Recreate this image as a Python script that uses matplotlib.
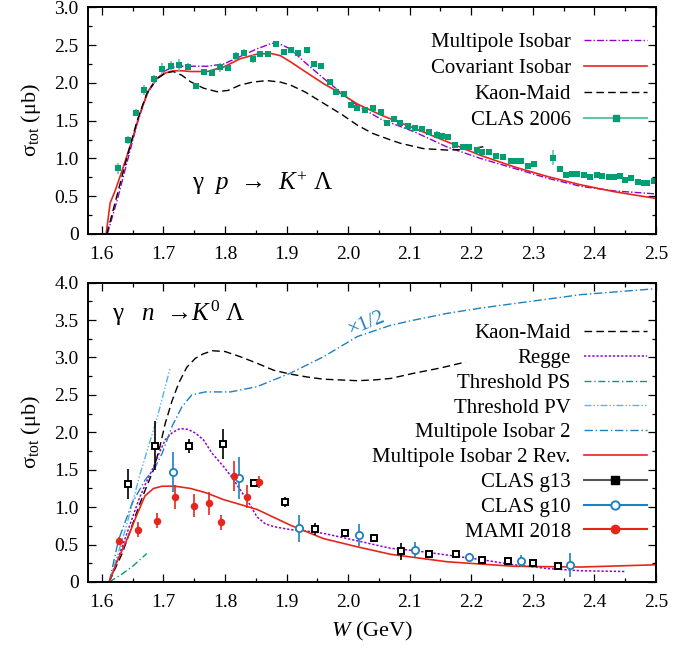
import matplotlib
matplotlib.use('agg')
import matplotlib.pyplot as plt
from matplotlib.lines import Line2D
from matplotlib.ticker import MultipleLocator, FuncFormatter

plt.rcParams['font.family'] = ['Liberation Serif', 'DejaVu Serif']
plt.rcParams['mathtext.fontset'] = 'custom'
plt.rcParams['mathtext.rm'] = 'Liberation Serif'
plt.rcParams['mathtext.it'] = 'Liberation Serif:italic'

RED = '#e5261c'
PURPLE = '#9400d3'
GREEN = '#009e73'
LGREEN = '#66c5a8'
BLUE = '#1f80c0'
LBLUE = '#56b4e9'

# ---- top panel: gamma p -> K+ Lambda ----
clas06_w = [1.627, 1.642, 1.656, 1.669, 1.685, 1.698, 1.712, 1.726, 1.740, 1.753,
            1.766, 1.779, 1.792, 1.805, 1.818, 1.831, 1.845, 1.857, 1.870, 1.883,
            1.896, 1.908, 1.919, 1.933, 1.944, 1.956, 1.970, 1.981, 1.994, 2.004,
            2.015, 2.028, 2.040, 2.053, 2.063, 2.074, 2.085, 2.097, 2.108, 2.120,
            2.131, 2.144, 2.153, 2.163, 2.174, 2.186, 2.197, 2.209, 2.218, 2.228,
            2.240, 2.251, 2.264, 2.271, 2.281, 2.292, 2.302, 2.332, 2.344, 2.354,
            2.364, 2.372, 2.383, 2.393, 2.404, 2.413, 2.424, 2.432, 2.441, 2.450,
            2.460, 2.470, 2.481, 2.486, 2.496]
clas06_s = [0.87, 1.244, 1.605, 1.905, 2.047, 2.188, 2.227, 2.24, 2.214, 1.958,
            2.148, 2.126, 2.206, 2.2, 2.355, 2.4, 2.316, 2.382, 2.386, 2.519,
            2.412, 2.435, 2.4, 2.439, 2.254, 2.227, 2.016, 1.883, 1.853, 1.711,
            1.671, 1.641, 1.663, 1.61, 1.473, 1.518, 1.473, 1.429, 1.399, 1.385,
            1.354, 1.31, 1.297, 1.288, 1.178, 1.155, 1.147, 1.112, 1.081, 1.089,
            1.036, 1.015, 0.97, 0.97, 0.966, 0.904, 0.922, 1.01, 0.86, 0.781,
            0.794, 0.798, 0.781, 0.759, 0.785, 0.768, 0.754, 0.75, 0.768, 0.715,
            0.737, 0.692, 0.679, 0.679, 0.705]
clas06_e = [0.07, 0.05, 0.05, 0.07, 0.06, 0.07, 0.06, 0.08, 0.05, 0.04,
            0.04, 0.04, 0.06, 0.04, 0.05, 0.05, 0.05, 0.04, 0.04, 0.04,
            0.04, 0.04, 0.04, 0.04, 0.04, 0.04, 0.04, 0.05, 0.04, 0.04,
            0.04, 0.04, 0.04, 0.04, 0.04, 0.04, 0.04, 0.04, 0.04, 0.04,
            0.04, 0.05, 0.04, 0.04, 0.04, 0.04, 0.04, 0.04, 0.04, 0.04,
            0.04, 0.04, 0.04, 0.04, 0.04, 0.04, 0.04, 0.10, 0.04, 0.03,
            0.03, 0.03, 0.03, 0.03, 0.03, 0.03, 0.03, 0.03, 0.04, 0.04,
            0.03, 0.03, 0.03, 0.03, 0.04]

maid_p_w = [1.608, 1.624, 1.641, 1.657, 1.673, 1.689, 1.703, 1.716, 1.73, 1.744,
            1.765, 1.787, 1.805, 1.825, 1.845, 1.868, 1.89, 1.906, 1.93, 1.96,
            1.99, 2.015, 2.04, 2.069, 2.085, 2.122, 2.161, 2.193, 2.22]
maid_p_s = [0.0, 0.49, 1.02, 1.49, 1.86, 2.05, 2.13, 2.15, 2.1, 2.015,
            1.93, 1.883, 1.9, 1.972, 2.01, 2.03, 2.01, 1.972, 1.88, 1.73,
            1.58, 1.44, 1.33, 1.244, 1.20, 1.13, 1.11, 1.12, 1.155]

cov_w = [1.607, 1.6135, 1.622, 1.635, 1.649, 1.662, 1.676, 1.689, 1.703, 1.716,
         1.73, 1.744, 1.771, 1.798, 1.825, 1.852, 1.874, 1.89, 1.906, 1.93,
         1.96, 1.99, 2.015, 2.053, 2.107, 2.161, 2.215, 2.269, 2.324, 2.378,
         2.432, 2.5]
cov_s = [0.0, 0.41, 0.58, 0.89, 1.24, 1.6, 1.9, 2.06, 2.13, 2.16,
         2.16, 2.15, 2.15, 2.21, 2.32, 2.38, 2.39, 2.36, 2.28, 2.15,
         1.99, 1.85, 1.72, 1.575, 1.40, 1.22, 1.04, 0.89, 0.76, 0.65,
         0.56, 0.47]

mpi_w = [1.609, 1.625, 1.641, 1.657, 1.673, 1.689, 1.705, 1.72, 1.744, 1.771,
         1.798, 1.825, 1.852, 1.875, 1.885, 1.906, 1.93, 1.96, 1.99, 2.015,
         2.053, 2.107, 2.161, 2.215, 2.269, 2.324, 2.378, 2.432, 2.5]
mpi_s = [0.0, 0.45, 0.95, 1.45, 1.85, 2.05, 2.17, 2.22, 2.22, 2.22,
         2.25, 2.35, 2.45, 2.52, 2.53, 2.45, 2.27, 2.06, 1.86, 1.70,
         1.52, 1.354, 1.15, 1.0, 0.87, 0.737, 0.63, 0.57, 0.53]

# ---- bottom panel: gamma n -> K0 Lambda ----
g13_w = [1.642, 1.687, 1.742, 1.796, 1.847, 1.897, 1.947, 1.995, 2.042, 2.086,
         2.131, 2.175, 2.218, 2.26, 2.30, 2.341]
g13_s = [1.31, 1.82, 1.82, 1.84, 1.32, 1.07, 0.71, 0.65, 0.59, 0.41,
         0.37, 0.37, 0.294, 0.285, 0.25, 0.214]
g13_e = [0.20, 0.33, 0.09, 0.20, 0.05, 0.07, 0.08, 0.05, 0.05, 0.11,
         0.05, 0.05, 0.06, 0.05, 0.05, 0.05]

g10_w = [1.715, 1.822, 1.921, 2.018, 2.108, 2.196, 2.281, 2.361]
g10_s = [1.47, 1.39, 0.72, 0.63, 0.43, 0.33, 0.285, 0.227]
g10_e = [0.27, 0.28, 0.18, 0.15, 0.10, 0.05, 0.08, 0.16]

mami_w = [1.628, 1.659, 1.689, 1.719, 1.749, 1.774, 1.794, 1.815, 1.835, 1.855]
mami_s = [0.55, 0.70, 0.82, 1.14, 1.02, 1.05, 0.80, 1.42, 1.14, 1.33]
mami_e = [0.05, 0.10, 0.10, 0.16, 0.15, 0.15, 0.10, 0.20, 0.15, 0.08]

maid_n_w = [1.612, 1.62, 1.633, 1.646, 1.66, 1.672, 1.684, 1.694, 1.703, 1.714,
            1.725, 1.738, 1.752, 1.765, 1.78, 1.80, 1.825, 1.85, 1.879, 1.905,
            1.933, 1.96, 1.987, 2.015, 2.042, 2.069, 2.107, 2.15, 2.191]
maid_n_s = [0.0, 0.15, 0.38, 0.68, 1.01, 1.26, 1.50, 1.80, 2.12, 2.42,
            2.66, 2.87, 2.99, 3.05, 3.09, 3.08, 3.01, 2.93, 2.83, 2.78,
            2.74, 2.71, 2.70, 2.69, 2.70, 2.72, 2.79, 2.86, 2.94]

regge_w = [1.612, 1.63, 1.645, 1.66, 1.672, 1.684, 1.694, 1.703, 1.715, 1.727,
           1.74, 1.752, 1.765, 1.779, 1.798, 1.812, 1.825, 1.84, 1.852, 1.865,
           1.879, 1.906, 1.933, 1.96, 2.015, 2.069, 2.107, 2.161, 2.215, 2.269,
           2.324, 2.378, 2.451]
regge_s = [0.0, 0.4, 0.75, 1.10, 1.33, 1.54, 1.74, 1.90, 2.00, 2.05,
           2.04, 1.99, 1.90, 1.72, 1.54, 1.39, 1.23, 1.04, 0.87, 0.78,
           0.74, 0.70, 0.68, 0.65, 0.55, 0.45, 0.42, 0.36, 0.30, 0.23,
           0.18, 0.15, 0.14]

ps_w = [1.612, 1.63, 1.65, 1.673]
ps_s = [0.0, 0.09, 0.21, 0.38]

pv_w = [1.612, 1.64, 1.662, 1.69, 1.711]
pv_s = [0.0, 0.75, 1.44, 2.2, 2.86]

# multipole isobar 2 is drawn scaled by 1/2
mi2_w = [1.612, 1.627, 1.649, 1.670, 1.687, 1.698, 1.714, 1.730, 1.746, 1.768,
         1.79, 1.809, 1.852, 1.906, 1.960, 2.015, 2.069, 2.107, 2.161, 2.215,
         2.269, 2.324, 2.378, 2.44, 2.5]
mi2_s = [0.0, 0.56, 1.05, 1.36, 1.54, 1.72, 2.08, 2.34, 2.50, 2.54,
         2.54, 2.54, 2.61, 2.79, 3.01, 3.28, 3.43, 3.50, 3.59, 3.66,
         3.72, 3.78, 3.84, 3.88, 3.92]

rev_w = [1.612, 1.625, 1.643, 1.657, 1.670, 1.684, 1.698, 1.719, 1.744, 1.770,
         1.798, 1.852, 1.906, 1.960, 2.015, 2.069, 2.161, 2.269, 2.378, 2.5]
rev_s = [0.0, 0.28, 0.61, 0.90, 1.15, 1.25, 1.28, 1.28, 1.25, 1.19,
         1.10, 0.97, 0.76, 0.58, 0.47, 0.37, 0.27, 0.21, 0.20, 0.23]

FS = 15

fig = plt.figure(figsize=(6.93, 6.51), dpi=100)
ax1 = fig.add_axes([0.1274, 0.6406, 0.8192, 0.3482])
ax2 = fig.add_axes([0.1274, 0.106, 0.8192, 0.4598])


def ylab(v, pos):
    return '0' if abs(v) < 1e-9 else '%.1f' % v


for ax, ytop in ((ax1, 3.0), (ax2, 4.0)):
    ax.set_xlim(1.578, 2.5)
    ax.set_ylim(0, ytop)
    ax.xaxis.set_major_locator(MultipleLocator(0.1))
    ax.xaxis.set_minor_locator(MultipleLocator(0.05))
    ax.yaxis.set_major_locator(MultipleLocator(0.5))
    ax.yaxis.set_minor_locator(MultipleLocator(0.25))
    ax.yaxis.set_major_formatter(FuncFormatter(ylab))
    ax.tick_params(which='both', direction='in', top=True, right=True,
                   labelsize=FS - 1, width=0.9)
    ax.tick_params(which='major', length=6)
    ax.tick_params(which='minor', length=3)
    ax.tick_params(axis='x', pad=9)
    ax.tick_params(axis='y', pad=7)
    for sp in ax.spines.values():
        sp.set_linewidth(1.4)
    ax.set_ylabel(r'σ$_{\rm tot}$ (μb)', fontsize=FS + 1, labelpad=8)

# top panel
ax1.plot(mpi_w, mpi_s, color=PURPLE, lw=1.0, dashes=(5, 1.5, 1, 1.5))
ax1.plot(cov_w, cov_s, color=RED, lw=1.2)
ax1.plot(maid_p_w, maid_p_s, color='black', lw=1.0, dashes=(5.5, 3))
ax1.errorbar(clas06_w, clas06_s, yerr=clas06_e, fmt='s', color=GREEN, ms=4.4,
             ecolor=LGREEN, elinewidth=1.2, capsize=0, mew=0)
ax1.text(1.747, 0.675, 'γ  $p$  →  $K^{+}$ Λ', fontsize=FS + 3, va='center')

h1 = [Line2D([], [], color=PURPLE, lw=1.0, dashes=(5, 1.5, 1, 1.5)),
      Line2D([], [], color=RED, lw=1.2),
      Line2D([], [], color='black', lw=1.0, dashes=(5.5, 3)),
      Line2D([], [], color=LGREEN, lw=1.5, marker='s', ms=5, mfc=GREEN, mec=GREEN)]
l1 = ['Multipole Isobar', 'Covariant Isobar', 'Kaon-Maid', 'CLAS 2006']
ax1.legend(h1, l1, loc='upper right', bbox_to_anchor=(0.984, 0.888),
           frameon=False, markerfirst=False, numpoints=1, fontsize=FS,
           handlelength=3.0, handletextpad=0.65, labelspacing=0.31,
           borderpad=0, borderaxespad=0)

# bottom panel
ax2.plot(maid_n_w, maid_n_s, color='black', lw=1.0, dashes=(5.5, 3))
ax2.plot(regge_w, regge_s, color=PURPLE, lw=1.1, dashes=(1.5, 1.2))
ax2.plot(ps_w, ps_s, color=GREEN, lw=1.0, dashes=(5, 2, 1, 2))
ax2.plot(pv_w, pv_s, color=LBLUE, lw=1.0, dashes=(5, 1.5, 1, 1.5, 1, 1.5))
ax2.plot(mi2_w, mi2_s, color=BLUE, lw=1.0, dashes=(6, 2, 1, 2))
ax2.plot(rev_w, rev_s, color=RED, lw=1.2)
ax2.errorbar(g13_w, g13_s, yerr=g13_e, fmt='s', color='black', ms=4.6,
             mfc='white', mec='black', mew=1.4, elinewidth=1.2, capsize=0)
ax2.errorbar(g10_w, g10_s, yerr=g10_e, fmt='o', color=BLUE, ms=5.2,
             mfc='white', mec=BLUE, mew=1.3, elinewidth=1.2, capsize=0)
ax2.errorbar(mami_w, mami_s, yerr=mami_e, fmt='o', color=RED, ms=5.4,
             mew=0, elinewidth=1.2, capsize=0)
ax2.text(1.617, 3.59, 'γ   $n$  →$K^{0}$ Λ', fontsize=FS + 3, va='center')
ax2.text(2.03, 3.45, '×1/2', fontsize=FS, color=BLUE, rotation=22,
         ha='center', va='center')

h2 = [Line2D([], [], color='black', lw=1.0, dashes=(5.5, 3)),
      Line2D([], [], color=PURPLE, lw=1.1, dashes=(1.5, 1.2)),
      Line2D([], [], color=GREEN, lw=1.0, dashes=(5, 2, 1, 2)),
      Line2D([], [], color=LBLUE, lw=1.0, dashes=(5, 1.5, 1, 1.5, 1, 1.5)),
      Line2D([], [], color=BLUE, lw=1.0, dashes=(6, 2, 1, 2)),
      Line2D([], [], color=RED, lw=1.2),
      Line2D([], [], color='#555555', lw=1.5, marker='s', ms=6, mfc='black', mec='black'),
      Line2D([], [], color=BLUE, lw=1.5, marker='o', ms=6, mfc='white', mec=BLUE, mew=1.4),
      Line2D([], [], color=RED, lw=1.5, marker='o', ms=6, mfc=RED, mec=RED)]
l2 = ['Kaon-Maid', 'Regge', 'Threshold PS', 'Threshold PV', 'Multipole Isobar 2',
      'Multipole Isobar 2 Rev.', 'CLAS g13', 'CLAS g10', 'MAMI 2018']
ax2.legend(h2, l2, loc='upper right', bbox_to_anchor=(0.9836, 0.863),
           frameon=False, markerfirst=False, numpoints=1, fontsize=FS,
           handlelength=3.0, handletextpad=0.65, labelspacing=0.25,
           borderpad=0, borderaxespad=0)

ax2.set_xlabel('$W$ (GeV)', fontsize=FS + 1, labelpad=6)

fig.savefig('out.png', dpi=100)
